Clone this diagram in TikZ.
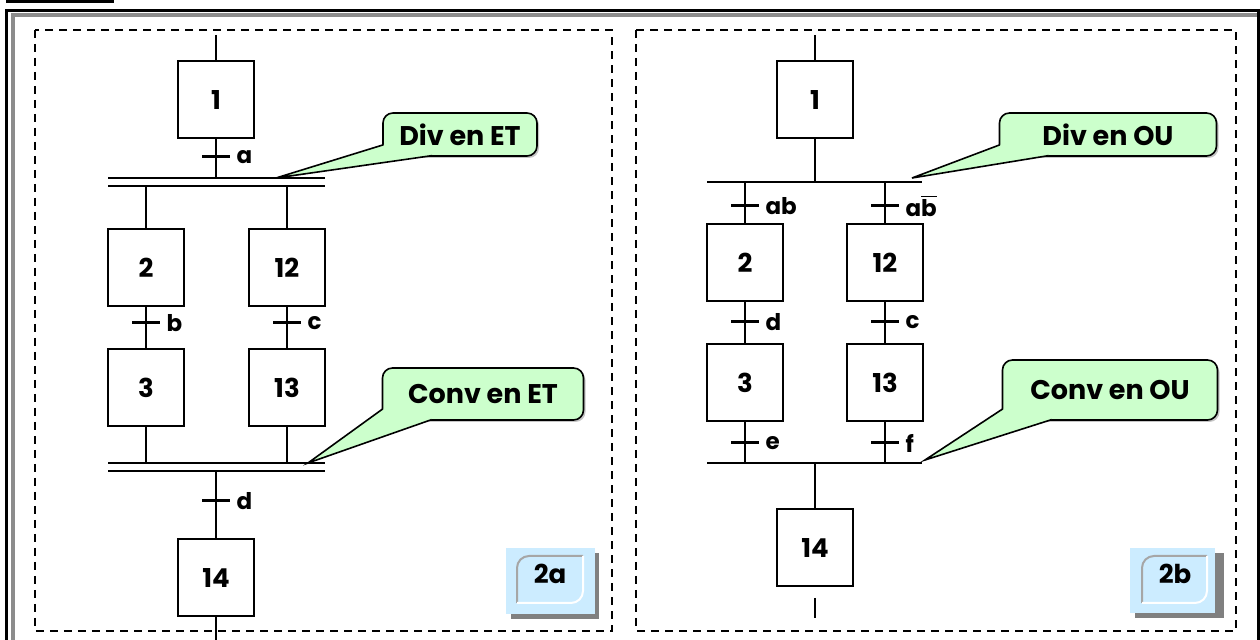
\documentclass[tikz,border=0pt]{standalone}
\usepackage{fontspec}
\setmainfont{Poppins}
\usetikzlibrary{shadows}
\definecolor{vertBulle}{RGB}{204,255,204}
\definecolor{bleuBadge}{RGB}{204,236,255}
\begin{document}
\begin{tikzpicture}[x=0.5pt,y=-0.5pt,
  etape/.style={draw,line width=1pt,minimum width=38pt,minimum height=38.5pt,inner sep=0pt,
    font=\bfseries\fontsize{13}{15}\selectfont},
  lien/.style={line width=1pt},
  recep/.style={line width=1.5pt},
  lettre/.style={anchor=west,inner sep=2.5pt,font=\bfseries\fontsize{11.5}{13}\selectfont},
  bulle/.style={draw,line width=0.8pt,fill=vertBulle,rounded corners=5pt,
    inner sep=0pt,font=\bfseries\fontsize{13.5}{15}\selectfont,
    drop shadow={shadow xshift=1pt,shadow yshift=-1pt,fill=black!45}},
  cadre/.style={line width=1pt,dash pattern=on 4pt off 3pt},
  badge/.style={font=\bfseries\fontsize{13}{15}\selectfont,inner sep=0pt}]
\clip (0,0) rectangle (1260,640);

% cadre de la figure
\draw[line width=1.5pt] (6.5,660) |- (1258.5,11) -- (1258.5,660);
\draw[line width=2pt,black!45] (12.5,660) |- (1257,15.5);
\draw[line width=1.5pt] (6,1.5) -- (114,1.5);
\draw[cadre] (35,30) rectangle (612,631);
\draw[cadre] (636,30) rectangle (1236,631);

% ---- 2a : divergence et convergence en ET
\node[etape] (a1) at (216,100) {1};
\node[etape] (a2) at (146,268) {2};
\node[etape] (a12) at (287,268) {12};
\node[etape] (a3) at (146,388) {3};
\node[etape] (a13) at (287,388) {13};
\node[etape] (a14) at (216,578) {14};
\coordinate (aHaut) at (216,35);
\coordinate (aDiv) at (216,178);
\coordinate (aConv) at (216,471);
\coordinate (aBas) at (216,640);
\draw[lien] (108,178) -- (325,178) (108,186) -- (325,186);
\draw[lien] (108,463) -- (325,463) (108,471) -- (325,471);
\draw[lien] (aHaut) -- (a1) -- (aDiv);
\draw[lien] (a2 |- 0,186) -- (a2) -- (a3) -- (a3 |- 0,463);
\draw[lien] (a12 |- 0,186) -- (a12) -- (a13) -- (a13 |- 0,463);
\draw[lien] (aConv) -- (a14) -- (aBas);
\foreach \x/\y/\t in {216/157/a,146/323/b,287/323/c,216/501/d}
  \draw[recep] (\x-14,\y) -- (\x+14,\y) node[lettre] (ta\t) {\t};

\node[bulle,minimum width=77pt,minimum height=21.5pt] (divET) at (460,134.5) {Div en ET};
\node[bulle,minimum width=100.5pt,minimum height=26pt] (convET) at (483,394) {Conv en ET};
\coordinate (pdivET) at (276,178);
\coordinate (pconvET) at (308,463);

\fill[black!50] (511,553) rectangle (599,619);
\fill[bleuBadge] (506,548) rectangle (595,614);
\draw[black!35,line width=1pt,rounded corners=6pt] (583,556) -- (517,556) -- (517,603);
\draw[white,line width=1pt,rounded corners=6pt] (517,603) -- (583,603) -- (583,556);
\node[badge] (badgeA) at (550,574) {2a};

% ---- 2b : divergence et convergence en OU
\node[etape] (b1) at (815,100) {1};
\node[etape] (b2) at (745,263) {2};
\node[etape] (b12) at (885,263) {12};
\node[etape] (b3) at (745,383) {3};
\node[etape] (b13) at (885,383) {13};
\node[etape] (b14) at (815,548) {14};
\coordinate (bHaut) at (815,35);
\coordinate (bDiv) at (815,182);
\coordinate (bConv) at (815,463);
\coordinate (bSortie) at (815,598);
\coordinate (bBas) at (815,618);
\draw[lien] (707,182) -- (922,182);
\draw[lien] (707,463) -- (922,463);
\draw[lien] (bHaut) -- (b1) -- (bDiv);
\draw[lien] (b2 |- 0,182) -- (b2) -- (b3) -- (b3 |- 0,463);
\draw[lien] (b12 |- 0,182) -- (b12) -- (b13) -- (b13 |- 0,463);
\draw[lien] (bConv) -- (b14);
\draw[lien] (bSortie) -- (bBas);
\foreach \x/\y/\t/\n in {745/206/ab/1,885/206/{a$\overline{\hbox{b}}$}/2,745/322/d/3,
    885/322/c/4,745/443/e/5,885/443/f/6}
  \draw[recep] (\x-14,\y) -- (\x+14,\y) node[lettre] (tb\n) {\t};

\node[bulle,minimum width=108.5pt,minimum height=21.5pt] (divOU) at (1108,134.5) {Div en OU};
\node[bulle,minimum width=107.5pt,minimum height=30pt] (convOU) at (1110,390) {Conv en OU};
\coordinate (pdivOU) at (912,178);
\coordinate (pconvOU) at (925,460);

% pointes des bulles
\foreach \b in {divET,convET,divOU,convOU} {
  \fill[vertBulle] ([xshift=.6pt,yshift=6pt]\b.south west) -- (p\b)
    -- ([xshift=25pt,yshift=.6pt]\b.south west) -- cycle;
  \draw[line width=.8pt] ([xshift=.6pt,yshift=6pt]\b.south west) -- (p\b)
    -- ([xshift=25pt,yshift=.6pt]\b.south west);
}

\fill[black!50] (1135,553) rectangle (1224,618);
\fill[bleuBadge] (1130,548) rectangle (1215,613);
\draw[black!35,line width=1pt,rounded corners=6pt] (1207,556) -- (1142,556) -- (1142,603);
\draw[white,line width=1pt,rounded corners=6pt] (1142,603) -- (1207,603) -- (1207,556);
\node[badge] (badgeB) at (1175,574) {2b};
\end{tikzpicture}
\end{document}
